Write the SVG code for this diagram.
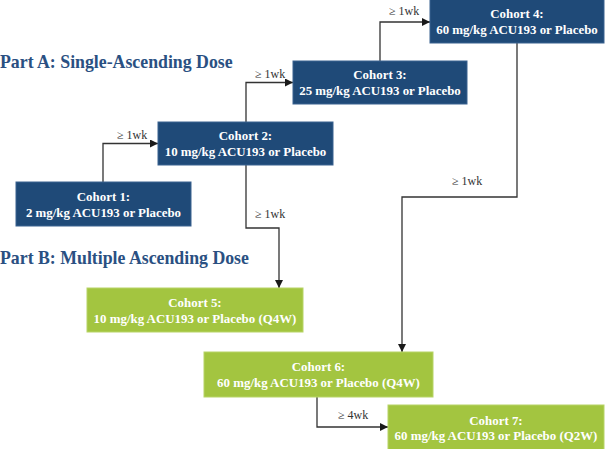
<svg xmlns="http://www.w3.org/2000/svg" width="605" height="449" viewBox="0 0 605 449">
<defs>
<marker id="ah" viewBox="0 0 10 10" refX="10" refY="5" markerWidth="8" markerHeight="8" markerUnits="userSpaceOnUse" orient="auto">
<path d="M0,0 L10,5 L0,10 z" fill="#1a1a1a"/>
</marker>
<style>
.blue{fill:#1f4a78;stroke:#3a6290;stroke-width:1}
.green{fill:#a3c540;stroke:#b7d466;stroke-width:1}
.bt{font-family:"Liberation Serif","Times New Roman",serif;font-weight:bold;font-size:12.9px;fill:#ffffff;text-anchor:middle}
.title{font-family:"Liberation Serif","Times New Roman",serif;font-weight:bold;font-size:17.8px;fill:#2a5082}
.lbl{font-family:"Liberation Serif","Times New Roman",serif;font-size:12px;fill:#333333}
.conn{fill:none;stroke:#333333;stroke-width:1.3;marker-end:url(#ah)}
</style>
</defs>
<rect width="605" height="449" fill="#ffffff"/>
<text class="title" x="0" y="68">Part A: Single-Ascending Dose</text>
<text class="title" x="0" y="264">Part B: Multiple Ascending Dose</text>
<g id="connectors">
<path class="conn" d="M103,182 V143.5 H158"/>
<path class="conn" d="M246,122 V82.5 H293"/>
<path class="conn" d="M380,61 V22 H430"/>
<path class="conn" d="M246,165 V228 H279 V288"/>
<path class="conn" d="M517,43 V197 H402 V352"/>
<path class="conn" d="M317,397 V427 H388"/>
<text class="lbl" x="117" y="139">≥ 1wk</text>
<text class="lbl" x="255" y="78">≥ 1wk</text>
<text class="lbl" x="389" y="15">≥ 1wk</text>
<text class="lbl" x="255" y="218">≥ 1wk</text>
<text class="lbl" x="452" y="185">≥ 1wk</text>
<text class="lbl" x="338" y="419">≥ 4wk</text>
</g>
<g id="cohort1">
<rect class="blue" x="16" y="182" width="175" height="44"/>
<text class="bt" x="103.5" y="201">Cohort 1:</text>
<text class="bt" x="103.5" y="217">2 mg/kg ACU193 or Placebo</text>
</g>
<g id="cohort2">
<rect class="blue" x="158" y="122" width="175" height="43"/>
<text class="bt" x="245.5" y="140">Cohort 2:</text>
<text class="bt" x="245.5" y="156">10 mg/kg ACU193 or Placebo</text>
</g>
<g id="cohort3">
<rect class="blue" x="293" y="61" width="174" height="43"/>
<text class="bt" x="380" y="79">Cohort 3:</text>
<text class="bt" x="380" y="95">25 mg/kg ACU193 or Placebo</text>
</g>
<g id="cohort4">
<rect class="blue" x="430" y="-1" width="174" height="44"/>
<text class="bt" x="517" y="18">Cohort 4:</text>
<text class="bt" x="517" y="34">60 mg/kg ACU193 or Placebo</text>
</g>
<g id="cohort5">
<rect class="green" x="87" y="288" width="216" height="44"/>
<text class="bt" x="195" y="307">Cohort 5:</text>
<text class="bt" x="195" y="323">10 mg/kg ACU193 or Placebo (Q4W)</text>
</g>
<g id="cohort6">
<rect class="green" x="204" y="352" width="229" height="45"/>
<text class="bt" x="318.5" y="371">Cohort 6:</text>
<text class="bt" x="318.5" y="387">60 mg/kg ACU193 or Placebo (Q4W)</text>
</g>
<g id="cohort7">
<rect class="green" x="388" y="405" width="216" height="45"/>
<text class="bt" x="496" y="425">Cohort 7:</text>
<text class="bt" x="496" y="440">60 mg/kg ACU193 or Placebo (Q2W)</text>
</g>
</svg>
